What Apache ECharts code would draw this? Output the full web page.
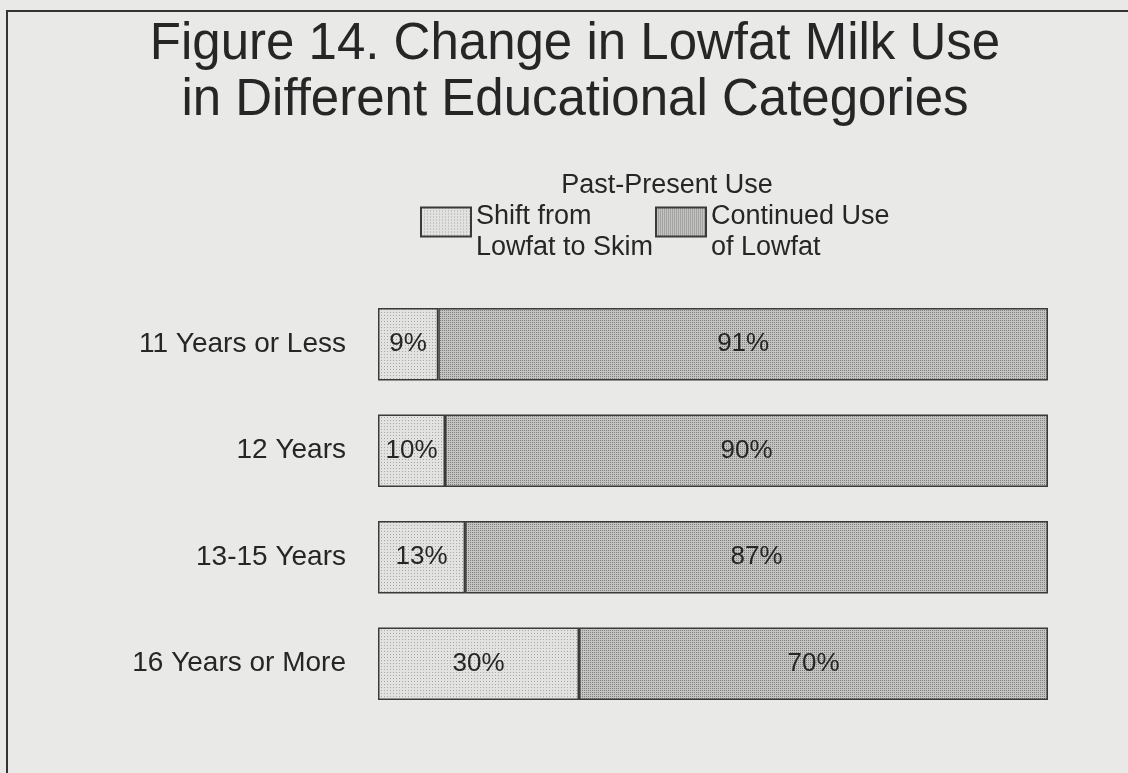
<!DOCTYPE html>
<html>
<head>
<meta charset="utf-8">
<script src="https://cdn.jsdelivr.net/npm/echarts@6/dist/echarts.min.js"></script>
<style>
  html, body { margin: 0; padding: 0; background: #e9e9e7; overflow: hidden; }
  #chart { width: 1128px; height: 773px; }
</style>
</head>
<body>
<div id="chart"></div>
<script>
// categories (top to bottom)
var categories = ["11 Years or Less", "12 Years", "13-15 Years", "16 Years or More"];
// percent of lowfat users who shifted to skim
var shiftToSkim = [9, 10, 13, 30];
// percent who continued with lowfat
var continuedLowfat = [91, 90, 87, 70];
var seriesNames = ["Shift from\nLowfat to Skim", "Continued Use\nof Lowfat"];

// little dot-screen tiles like the printed halftone
function makeTile(base, dot, step) {
  var c = document.createElement("canvas");
  c.width = step;
  c.height = step;
  var ctx = c.getContext("2d");
  ctx.fillStyle = base;
  ctx.fillRect(0, 0, step, step);
  ctx.fillStyle = dot;
  ctx.fillRect(0, 0, 1, 1);
  return c;
}
var lightFill = { image: makeTile("#e2e2e0", "#a8a8a8", 3), repeat: "repeat" };
var darkFill = { image: makeTile("#c4c4c2", "#808080", 2), repeat: "repeat" };

var font = "'Liberation Sans', Arial, Helvetica, sans-serif";

function legendOpt(name, left) {
  return {
    data: [name],
    left: left,
    top: 181,
    padding: 0,
    icon: "rect",
    itemWidth: 50,
    itemHeight: 29,
    selectedMode: false,
    // blank short first line pushes the text so line 1 sits by the box
    formatter: function (n) {
      return "{gap| }\n" + n;
    },
    textStyle: {
      fontSize: 27,
      lineHeight: 31,
      color: "#262626",
      rich: { gap: { fontSize: 8, lineHeight: 20 } }
    }
  };
}

var myChart = echarts.init(document.getElementById("chart"));
var option = {
  backgroundColor: "#e9e9e7",
  animation: false,
  textStyle: { fontFamily: font },
  title: [
    {
      text: "Figure 14. Change in Lowfat Milk Use\nin Different Educational Categories",
      left: 570,
      top: 12,
      textAlign: "center",
      textStyle: {
        fontFamily: font,
        fontSize: 51,
        lineHeight: 56,
        fontWeight: "normal",
        color: "#262626"
      }
    },
    {
      text: "Past-Present Use",
      left: 662,
      top: 167,
      textAlign: "center",
      textStyle: { fontFamily: font, fontSize: 27, fontWeight: "normal", color: "#262626" }
    }
  ],
  legend: [legendOpt(seriesNames[0], 420), legendOpt(seriesNames[1], 655)],
  grid: { left: 378, right: 80, top: 291, bottom: 56, containLabel: false },
  xAxis: {
    type: "value",
    min: 0,
    max: 100,
    show: false
  },
  yAxis: {
    type: "category",
    data: categories,
    inverse: true,
    axisLine: { show: false },
    axisTick: { show: false },
    axisLabel: { fontSize: 28, color: "#262626", margin: 32 }
  },
  graphic: [
    {
      type: "polyline",
      shape: { points: [[7, 780], [7, 11], [1135, 11]] },
      style: { stroke: "#333", lineWidth: 2, fill: null }
    }
  ],
  series: [
    {
      name: seriesNames[0],
      type: "bar",
      stack: "total",
      barCategoryGap: "32%",
      data: shiftToSkim,
      itemStyle: { color: lightFill, borderColor: "#3a3a3a", borderWidth: 1.5 },
      label: { show: true, position: "inside", formatter: "{c}%", fontSize: 26, color: "#262626" }
    },
    {
      name: seriesNames[1],
      type: "bar",
      stack: "total",
      barCategoryGap: "32%",
      data: continuedLowfat,
      itemStyle: { color: darkFill, borderColor: "#3a3a3a", borderWidth: 1.5 },
      label: { show: true, position: "inside", formatter: "{c}%", fontSize: 26, color: "#262626" }
    }
  ]
};
myChart.setOption(option);
</script>
</body>
</html>
